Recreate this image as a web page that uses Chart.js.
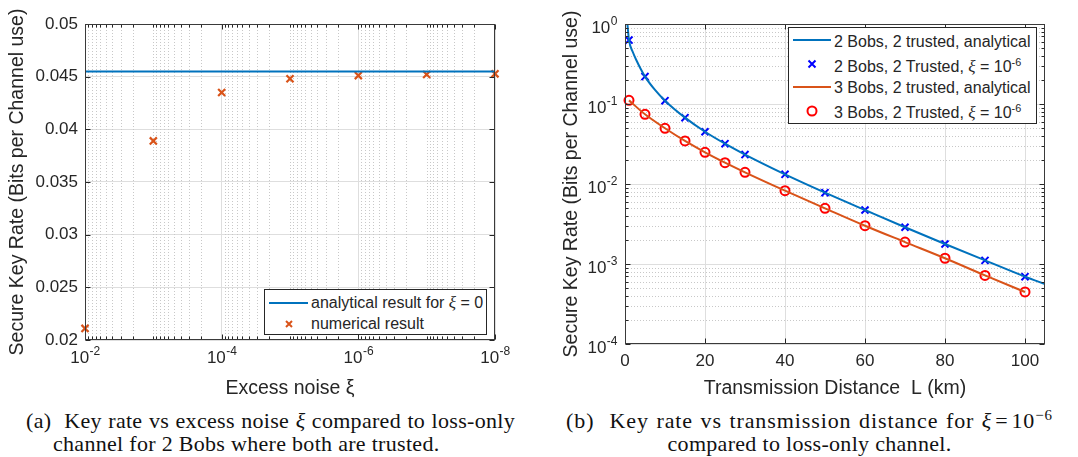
<!DOCTYPE html>
<html lang="en">
<head>
<meta charset="UTF-8">
<title>Secure key rate vs excess noise and transmission distance</title>
<script src="https://cdn.jsdelivr.net/npm/chart.js"></script>
<style>
  html, body { margin: 0; padding: 0; background: #fff; }
  body { width: 1078px; height: 457px; position: relative; overflow: hidden;
         font-family: "Liberation Sans", Arial, sans-serif; color: #262626; }
  canvas { position: absolute; top: 0; }
  #chartA { left: 0; }
  #chartB { left: 540px; }
  .legend { position: absolute; background: #fff; border: 1px solid #262626; box-sizing: border-box; font-size: 16px; }
  .legend .txt { position: absolute; height: 20px; line-height: 20px; white-space: nowrap; }
  .legend .ln { position: absolute; height: 2px; }
  .legend svg { position: absolute; }
  .legend i { font-family: "Liberation Serif", serif; font-size: 17px; }
  .legend sup, .cap sup { line-height: 0; font-size: 0.68em; vertical-align: 0.55em; }
  .cap { position: absolute; font-family: "Liberation Serif", "Times New Roman", serif; font-size: 22px;
         letter-spacing: 0.3px; color: #111; height: 24px; line-height: 24px; white-space: nowrap; }
  .cap.just { white-space: normal; text-align: justify; text-align-last: justify; }
  .cap .eq { margin: 0 3px; }
</style>
</head>
<body>

<canvas id="chartA" width="540" height="404"></canvas>
<canvas id="chartB" width="538" height="404"></canvas>

<!-- legend (a) -->
<div class="legend" style="left:264px; top:289px; width:223px; height:46px;">
  <div class="ln" style="left:4px; top:12px; width:39px; background:#0072BD;"></div>
  <div class="txt" style="left:46px; top:3px;">analytical result for <i>ξ</i> = 0</div>
  <svg style="left:18px; top:28px;" width="12" height="12" viewBox="-6 -6 12 12"><path d="M-3 -3L3 3M3 -3L-3 3" stroke="#D95319" stroke-width="2"/></svg>
  <div class="txt" style="left:46px; top:24px;">numerical result</div>
</div>

<!-- legend (b) -->
<div class="legend" style="left:788px; top:27px; width:249px; height:97px;">
  <div class="ln" style="left:4px; top:11px; width:38px; background:#0072BD;"></div>
  <div class="txt" style="left:45px; top:4px;">2 Bobs, 2 trusted, analytical</div>
  <svg style="left:17px; top:30px;" width="12" height="12" viewBox="-6 -6 12 12"><path d="M-3.5 -3.5L3.5 3.5M3.5 -3.5L-3.5 3.5" stroke="#0000FF" stroke-width="2"/></svg>
  <div class="txt" style="left:45px; top:29px;">2 Bobs, 2 Trusted, <i>ξ</i> = 10<sup>-6</sup></div>
  <div class="ln" style="left:4px; top:58px; width:38px; background:#D95319;"></div>
  <div class="txt" style="left:45px; top:50px;">3 Bobs, 2 trusted, analytical</div>
  <svg style="left:17px; top:77px;" width="12" height="12" viewBox="-6 -6 12 12"><circle cx="0" cy="0" r="4.5" fill="none" stroke="#FF0000" stroke-width="2"/></svg>
  <div class="txt" style="left:45px; top:75px;">3 Bobs, 2 Trusted, <i>ξ</i> = 10<sup>-6</sup></div>
</div>

<!-- captions -->
<div class="cap just" style="left:26px; top:409px; width:489px;">(a)&nbsp; Key rate vs excess noise <i>ξ</i> compared to loss-only</div>
<div class="cap" style="left:53px; top:432px;">channel for 2 Bobs where both are trusted.</div>
<div class="cap just" style="left:566px; top:409px; width:487px; letter-spacing:0.9px;">(b)&nbsp; Key rate vs transmission distance for <i>ξ</i><span class="eq">=</span>10<sup>−6</sup></div>
<div class="cap" style="left:566px; top:432px; width:487px; text-align:center;">compared to loss-only channel.</div>

<script>
// ---- (a) key rate vs excess noise ----
const noiseLevels = [1e-2, 1e-3, 1e-4, 1e-5, 1e-6, 1e-7, 1e-8];
const numericalRate = [0.0211, 0.0389, 0.0435, 0.0448, 0.0451, 0.0452, 0.04527];
const analyticalRate = 0.0455; // xi = 0
const noiseTicks = [1e-2, 1e-4, 1e-6, 1e-8];
const noiseTickLabels = ['10^-2', '10^-4', '10^-6', '10^-8'];
const rateTicks = [0.02, 0.025, 0.03, 0.035, 0.04, 0.045, 0.05];
const rateTickLabels = ['0.02', '0.025', '0.03', '0.035', '0.04', '0.045', '0.05'];

// ---- (b) key rate vs transmission distance ----
const distances = [1, 5, 10, 15, 20, 25, 30, 40, 50, 60, 70, 80, 90, 100];
const twoBobsNumerical = [0.63, 0.22, 0.11, 0.0675, 0.045, 0.0319, 0.0233, 0.0132, 0.0078, 0.00473, 0.00288, 0.00178, 0.00111, 0.000695];
const threeBobsNumerical = [0.111, 0.0743, 0.0497, 0.0345, 0.0249, 0.0185, 0.014, 0.00826, 0.00497, 0.00301, 0.00188, 0.00118, 0.00072, 0.000447];
const curveDistances = [0.6, 1, 2, 3, 4, 5, 7.5, 10, 15, 20, 25, 30, 40, 50, 60, 70, 80, 90, 100, 105];
const twoBobsAnalytical = [1.0, 0.63, 0.44, 0.34, 0.27, 0.22, 0.15, 0.11, 0.0675, 0.045, 0.0319, 0.0233, 0.0132, 0.0078, 0.00473, 0.00288, 0.00178, 0.00111, 0.000695, 0.00056];
const threeBobsAnalytical = [0.111, 0.0743, 0.0497, 0.0345, 0.0249, 0.0185, 0.014, 0.00826, 0.00497, 0.00301, 0.00188, 0.00118, 0.00072, 0.000447];
const distanceTicks = [0, 20, 40, 60, 80, 100];
const distanceTickLabels = ['0', '20', '40', '60', '80', '100'];
const keyRateTicks = [1e-4, 1e-3, 1e-2, 1e-1, 1];
const keyRateTickLabels = ['10^-4', '10^-3', '10^-2', '10^-1', '10^0'];

const INK = '#262626';
const MAJOR_GRID = '#dedede';
const MINOR_GRID = '#c8c8c8';
const FONT = '"Liberation Sans", Arial, sans-serif';
Chart.defaults.font.family = FONT;
Chart.defaults.color = INK;

// minor positions for log axes (k * 10^e, unlabelled decades included)
function logMinors(eFrom, eTo, skip) {
  const out = [];
  for (let e = eFrom; e < eTo; e++) {
    for (let k = 1; k <= 9; k++) {
      if (k === 1 && skip.some(s => Math.abs(Math.log10(s) - e) < 1e-9)) continue;
      out.push(k * Math.pow(10, e));
    }
  }
  return out;
}

function labelFor(ticks, labels, isLog) {
  return v => {
    const i = ticks.findIndex(t => isLog ? Math.abs(Math.log10(t) - Math.log10(v)) < 1e-6 : Math.abs(t - v) < 1e-9);
    return i >= 0 ? labels[i] : '';
  };
}

// "10^-2" drawn as base + raised exponent
function drawPower(ctx, label, x, y, align, axis) {
  const [base, exp] = label.split('^');
  ctx.font = '17px ' + FONT;
  const wb = ctx.measureText(base).width;
  ctx.font = '12px ' + FONT;
  const we = ctx.measureText(exp).width;
  const x0 = align === 'center' ? x - (wb + we) / 2 : x - wb - we;
  ctx.textAlign = 'left';
  ctx.textBaseline = 'alphabetic';
  const baseY = axis === 'x' ? y + 23 : y + 9;
  const expY = axis === 'x' ? y + 15 : y + 1;
  ctx.font = '17px ' + FONT;
  ctx.fillText(base, x0, baseY);
  ctx.font = '12px ' + FONT;
  ctx.fillText(exp, x0 + wb + 0.5, expY);
}

// matlab-like box: dotted minor grid, inward ticks on all four sides, power labels
const matlabAxes = {
  id: 'matlabAxes',
  beforeDatasetsDraw(chart, args, opts) {
    const {ctx, chartArea: a, scales: {x, y}} = chart;
    ctx.save();
    ctx.strokeStyle = MINOR_GRID;
    ctx.lineWidth = 1;
    ctx.setLineDash([1, 2]);
    ctx.beginPath();
    (opts.xMinor || []).forEach(v => {
      const px = Math.round(x.getPixelForValue(v)) + 0.5;
      ctx.moveTo(px, a.top); ctx.lineTo(px, a.bottom);
    });
    (opts.yMinor || []).forEach(v => {
      const py = Math.round(y.getPixelForValue(v)) + 0.5;
      ctx.moveTo(a.left, py); ctx.lineTo(a.right, py);
    });
    ctx.stroke();
    ctx.restore();
  },
  afterDatasetsDraw(chart, args, opts) {
    const {ctx, chartArea: a, scales: {x, y}} = chart;
    const L = Math.round(a.left) + 0.5, R = Math.round(a.right) - 0.5;
    const T = Math.round(a.top) + 0.5, B = Math.round(a.bottom) - 0.5;
    ctx.save();
    ctx.strokeStyle = INK;
    ctx.lineWidth = 1;
    ctx.beginPath();
    const xt = (vals, len) => vals.forEach(v => {
      const px = Math.round(x.getPixelForValue(v)) + 0.5;
      ctx.moveTo(px, B); ctx.lineTo(px, B - len);
      ctx.moveTo(px, T); ctx.lineTo(px, T + len);
    });
    const yt = (vals, len) => vals.forEach(v => {
      const py = Math.round(y.getPixelForValue(v)) + 0.5;
      ctx.moveTo(L, py); ctx.lineTo(L + len, py);
      ctx.moveTo(R, py); ctx.lineTo(R - len, py);
    });
    xt(x.ticks.map(t => t.value), 5);
    yt(y.ticks.map(t => t.value), 5);
    xt(opts.xMinorTicks || [], 3);
    yt(opts.yMinorTicks || [], 3);
    ctx.stroke();
    ctx.strokeStyle = '#3a3a3a';
    ctx.strokeRect(L, T, R - L, B - T);

    ctx.fillStyle = INK;
    if (opts.xPower) {
      opts.xPower.ticks.forEach((v, i) => drawPower(ctx, opts.xPower.labels[i], x.getPixelForValue(v), a.bottom, 'center', 'x'));
    }
    if (opts.yPower) {
      opts.yPower.ticks.forEach((v, i) => drawPower(ctx, opts.yPower.labels[i], a.left - 8, y.getPixelForValue(v), 'right', 'y'));
    }
    ctx.restore();
  }
};

const tickFont = {size: 17};
const titleFont = {size: 19.5};

// ---- chart (a) ----
const noiseMinors = logMinors(-8, -2, noiseTicks);
new Chart(document.getElementById('chartA'), {
  type: 'scatter',
  data: {
    datasets: [
      {
        label: 'analytical result for ξ = 0',
        type: 'line',
        data: [noiseLevels[0], noiseLevels[noiseLevels.length - 1]].map(x => ({x, y: analyticalRate})),
        borderColor: '#0072BD',
        borderWidth: 2,
        pointRadius: 0,
        clip: false
      },
      {
        label: 'numerical result',
        data: noiseLevels.map((x, i) => ({x, y: numericalRate[i]})),
        pointStyle: 'crossRot',
        pointRadius: 5,
        borderColor: '#D95319',
        borderWidth: 2.2,
        clip: false
      }
    ]
  },
  options: {
    responsive: false,
    animation: false,
    layout: {padding: {left: 2, top: 24, right: 45, bottom: 0}},
    plugins: {
      legend: {display: false},
      tooltip: {enabled: false},
      matlabAxes: {
        xMinor: noiseMinors, xMinorTicks: noiseMinors,
        xPower: {ticks: noiseTicks, labels: noiseTickLabels}
      }
    },
    scales: {
      x: {
        type: 'logarithmic',
        reverse: true,
        min: 1e-8,
        max: 1e-2,
        afterBuildTicks: s => { s.ticks = noiseTicks.map(value => ({value})); },
        afterFit: s => { s.height = 64; },
        ticks: {display: false, autoSkip: false},
        grid: {color: MAJOR_GRID, drawTicks: false},
        border: {display: false},
        title: {display: true, text: 'Excess noise ξ', font: titleFont, padding: {top: 0, bottom: 4}}
      },
      y: {
        min: 0.02,
        max: 0.05,
        afterBuildTicks: s => { s.ticks = rateTicks.map(value => ({value})); },
        afterFit: s => { s.width = 83; },
        ticks: {callback: labelFor(rateTicks, rateTickLabels, false), font: tickFont, padding: 7},
        grid: {color: MAJOR_GRID, drawTicks: false},
        border: {display: false},
        title: {display: true, text: 'Secure Key Rate (Bits per Channel use)', font: titleFont, padding: {top: 4, bottom: 0}}
      }
    }
  },
  plugins: [matlabAxes]
});

// ---- chart (b) ----
const rateMinors = logMinors(-4, 0, keyRateTicks).filter(v => keyRateTicks.every(t => Math.abs(Math.log10(t) - Math.log10(v)) > 1e-6));
new Chart(document.getElementById('chartB'), {
  type: 'scatter',
  data: {
    datasets: [
      {
        label: '2 Bobs, 2 trusted, analytical',
        type: 'line',
        data: curveDistances.map((x, i) => ({x, y: twoBobsAnalytical[i]})),
        borderColor: '#0072BD',
        borderWidth: 2,
        pointRadius: 0,
        cubicInterpolationMode: 'monotone'
      },
      {
        label: '2 Bobs, 2 Trusted, ξ = 10^-6',
        data: distances.map((x, i) => ({x, y: twoBobsNumerical[i]})),
        pointStyle: 'crossRot',
        pointRadius: 5,
        borderColor: '#0000FF',
        borderWidth: 2,
        clip: false
      },
      {
        label: '3 Bobs, 2 trusted, analytical',
        type: 'line',
        data: distances.map((x, i) => ({x, y: threeBobsAnalytical[i]})),
        borderColor: '#D95319',
        borderWidth: 2,
        pointRadius: 0,
        cubicInterpolationMode: 'monotone'
      },
      {
        label: '3 Bobs, 2 Trusted, ξ = 10^-6',
        data: distances.map((x, i) => ({x, y: threeBobsNumerical[i]})),
        pointStyle: 'circle',
        pointRadius: 4.5,
        borderColor: '#FF0000',
        backgroundColor: 'rgba(0,0,0,0)',
        borderWidth: 2,
        clip: false
      }
    ]
  },
  options: {
    responsive: false,
    animation: false,
    layout: {padding: {left: 16, top: 24, right: 33, bottom: 0}},
    plugins: {
      legend: {display: false},
      tooltip: {enabled: false},
      matlabAxes: {
        yMinor: rateMinors, yMinorTicks: rateMinors,
        yPower: {ticks: keyRateTicks, labels: keyRateTickLabels}
      }
    },
    scales: {
      x: {
        min: 0,
        max: 105,
        afterBuildTicks: s => { s.ticks = distanceTicks.map(value => ({value})); },
        afterFit: s => { s.height = 60; },
        ticks: {callback: labelFor(distanceTicks, distanceTickLabels, false), font: tickFont, padding: 7, maxRotation: 0, autoSkip: false},
        grid: {color: MAJOR_GRID, drawTicks: false},
        border: {display: false},
        title: {display: true, text: 'Transmission Distance  L (km)', font: titleFont, padding: {top: 0, bottom: 4}}
      },
      y: {
        type: 'logarithmic',
        min: 1e-4,
        max: 1,
        afterBuildTicks: s => { s.ticks = keyRateTicks.map(value => ({value})); },
        afterFit: s => { s.width = 69; },
        ticks: {display: false},
        grid: {color: MAJOR_GRID, drawTicks: false},
        border: {display: false},
        title: {display: true, text: 'Secure Key Rate (Bits per Channel use)', font: titleFont, padding: {top: 4, bottom: 0}}
      }
    }
  },
  plugins: [matlabAxes]
});
</script>
</body>
</html>
